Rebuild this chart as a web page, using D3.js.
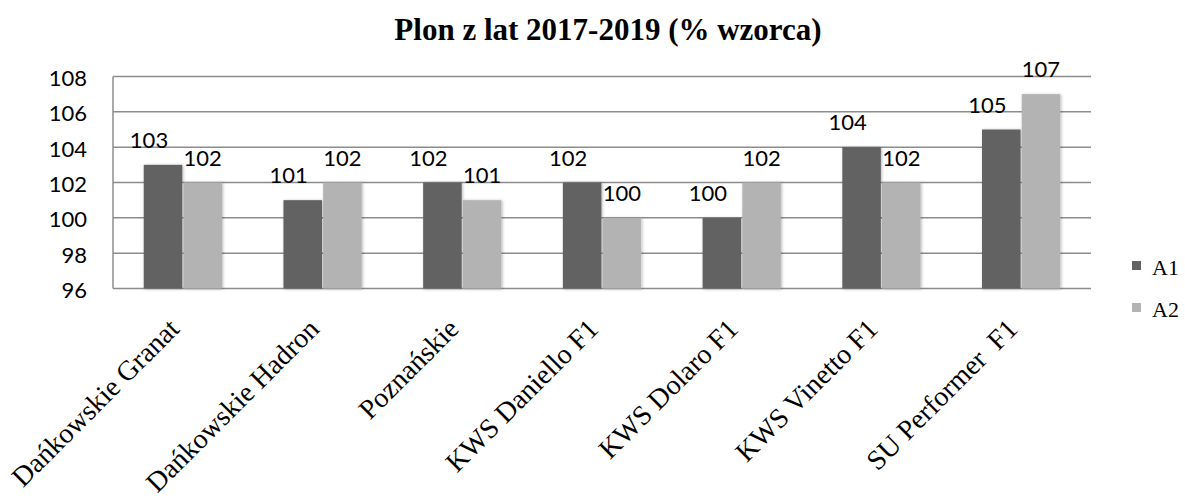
<!DOCTYPE html>
<html>
<head>
<meta charset="utf-8">
<script src="https://cdn.jsdelivr.net/npm/d3@7/dist/d3.min.js"></script>
<style>
  html, body { margin: 0; padding: 0; background: #ffffff; }
  svg { display: block; }
</style>
</head>
<body>
<svg id="chart" width="1185" height="501"></svg>
<script>
const title = "Plon z lat 2017-2019 (% wzorca)";
const categories = ["Dańkowskie Granat", "Dańkowskie Hadron", "Poznańskie", "KWS Daniello F1", "KWS Dolaro F1", "KWS Vinetto F1", "SU Performer  F1"];
const seriesNames = ["A1", "A2"];
const valuesA1 = [103, 101, 102, 102, 100, 104, 105];
const valuesA2 = [102, 102, 101, 100, 102, 102, 107];
const yTicks = [96, 98, 100, 102, 104, 106, 108];

const colors = { A1: "#626262", A2: "#b3b3b3" };

const svg = d3.select("#chart");
const plot = { left: 113, right: 1091, top: 76.5, bottom: 288.5 };

const defs = svg.append("defs");
const f = defs.append("filter").attr("id", "shadow")
  .attr("x", "-30%").attr("y", "-10%").attr("width", "160%").attr("height", "120%");
f.append("feDropShadow").attr("dx", 1).attr("dy", 0.5).attr("stdDeviation", 1.4)
  .attr("flood-color", "#000").attr("flood-opacity", 0.28);

const x0 = d3.scaleBand().domain(categories).range([plot.left, plot.right])
  .paddingInner(0.44).paddingOuter(0.22);
const x1 = d3.scaleBand().domain(seriesNames).range([0, x0.bandwidth()]).paddingInner(0.03);
const y = d3.scaleLinear().domain([96, 108]).range([plot.bottom, plot.top]);

// gridlines
svg.append("g").selectAll("line").data(yTicks).join("line")
  .attr("x1", plot.left).attr("x2", plot.right)
  .attr("y1", d => y(d)).attr("y2", d => y(d))
  .attr("stroke", "#8c8c8c").attr("stroke-width", 1.5);
// left axis line
svg.append("line").attr("x1", plot.left).attr("x2", plot.left)
  .attr("y1", plot.top).attr("y2", plot.bottom)
  .attr("stroke", "#8c8c8c").attr("stroke-width", 1.5);

// y tick labels
svg.append("g").selectAll("text").data(yTicks).join("text")
  .attr("x", 87).attr("y", d => y(d) + 1)
  .attr("text-anchor", "end").attr("dominant-baseline", "central")
  .style("font-family", "Lato, 'Open Sans', sans-serif").style("font-size", "22px").attr("fill", "#000")
  .text(d => d);

const data = categories.map((c, i) => ({ cat: c, vals: [
  { s: "A1", v: valuesA1[i] }, { s: "A2", v: valuesA2[i] } ] }));

const groups = svg.append("g").selectAll("g").data(data).join("g")
  .attr("transform", d => `translate(${x0(d.cat)},0)`);

groups.selectAll("rect").data(d => d.vals).join("rect")
  .attr("x", d => x1(d.s)).attr("width", x1.bandwidth())
  .attr("y", d => y(d.v)).attr("height", d => y(96) - y(d.v))
  .attr("fill", d => colors[d.s]).attr("filter", "url(#shadow)");

groups.selectAll("text").data(d => d.vals).join("text")
  .attr("x", d => x1(d.s) + x1.bandwidth() / 2 + (d.s === "A1" ? -14 : 0))
  .attr("y", d => y(d.v) - 17)
  .attr("text-anchor", "middle")
  .style("font-family", "Lato, 'Open Sans', sans-serif").style("font-size", "22px").attr("fill", "#000")
  .text(d => d.v);

// category labels
svg.append("g").selectAll("text").data(categories).join("text")
  .attr("transform", d => `translate(${x0(d) + x0.bandwidth() / 2 - 2},${plot.bottom + 42}) rotate(-45)`)
  .attr("text-anchor", "end")
  .style("font-family", "'Liberation Serif', 'Times New Roman', serif").style("font-size", "28px")
  .style("white-space", "pre")
  .attr("fill", "#000")
  .text(d => d);

// title
svg.append("text").attr("x", 608).attr("y", 40).attr("text-anchor", "middle")
  .style("font-family", "'Liberation Serif', 'Times New Roman', serif").style("font-size", "31px")
  .style("font-weight", "bold").attr("fill", "#000").text(title);

// legend
const legend = svg.append("g").selectAll("g").data(seriesNames).join("g")
  .attr("transform", (d, i) => `translate(1132,${261 + i * 42})`);
legend.append("rect").attr("width", 9).attr("height", 9).attr("fill", d => colors[d]);
legend.append("text").attr("x", 20).attr("y", 13.5)
  .style("font-family", "'Liberation Serif', 'Times New Roman', serif").style("font-size", "22px")
  .attr("fill", "#000").text(d => d);
</script>
</body>
</html>
